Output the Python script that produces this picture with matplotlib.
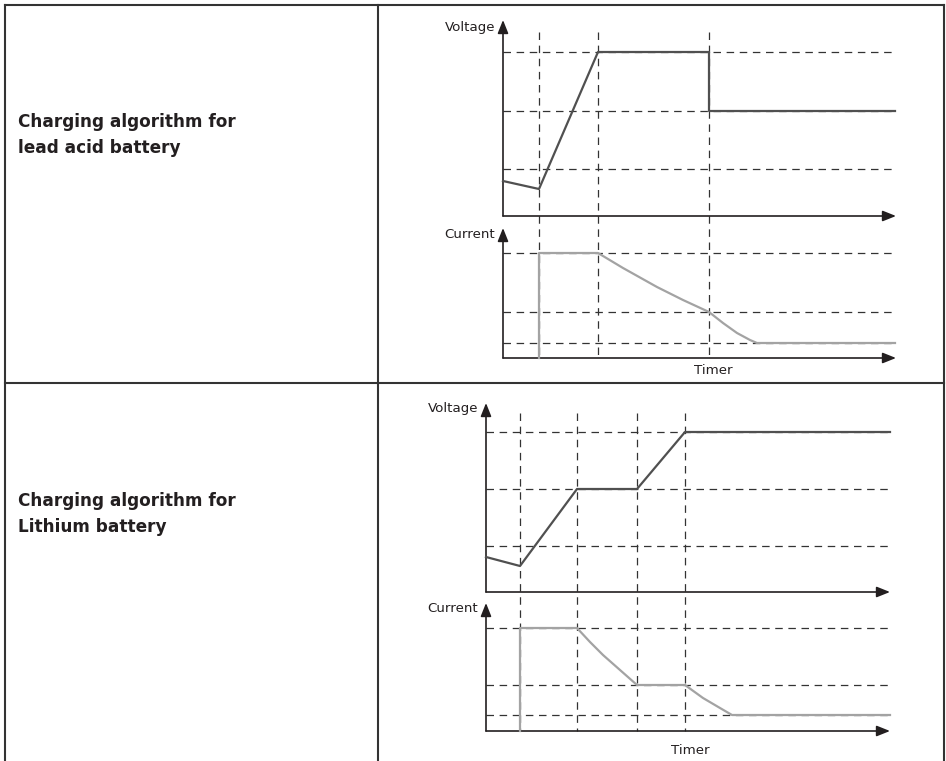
import matplotlib
matplotlib.use("Agg")
import matplotlib.pyplot as plt
from matplotlib.lines import Line2D
from matplotlib.transforms import blended_transform_factory

# -----------------------
# Data (arbitrary time / level units read off the schematic)
# -----------------------
# lead acid battery
lead_stages = [36, 95, 206]
lead_v_levels = [164, 105, 47]
lead_v_t = [0, 36, 95, 206, 206, 392]
lead_v = [35, 27, 164, 164, 105, 105]
lead_i_levels = [105, 46, 15]
lead_i_t = [36, 36, 95, 120, 154, 180, 206, 220, 234, 247, 254, 392]
lead_i = [0, 105, 105, 90, 71, 58, 46, 35, 25, 18, 15, 15]

# lithium battery
li_stages = [34, 91, 151, 199]
li_v_levels = [160, 103, 46]
li_v_t = [0, 34, 91, 151, 199, 404]
li_v = [35, 26, 103, 103, 160, 160]
li_i_levels = [103, 46, 16]
li_i_t = [34, 34, 91, 104, 117, 134, 151, 199, 217, 234, 246, 404]
li_i = [0, 103, 103, 89, 76, 61, 46, 46, 33, 23, 16, 16]

row_titles = [["Charging algorithm for", "lead acid battery"],
              ["Charging algorithm for", "Lithium battery"]]

# -----------------------
# Layout (pixels)
# -----------------------
W, H = 946, 761
AXIS_COL = "#231f20"
GRID_COL = "#333333"
V_COL = "#505050"
I_COL = "#a3a3a3"
DASH = (0, (6, 4.5))

fig = plt.figure(figsize=(W / 100, H / 100), dpi=100)


def fx(px):
    return px / W


def fy(py):
    return 1 - py / H


def make_ax(left, top, right, bottom, xmax, ymax):
    ax = fig.add_axes([fx(left), fy(bottom), fx(right - left), (bottom - top) / H])
    ax.set_xlim(0, xmax)
    ax.set_ylim(0, ymax)
    ax.axis("off")
    arrow = dict(arrowstyle="-|>,head_length=0.8,head_width=0.32", color=AXIS_COL,
                 lw=1.2, shrinkA=0, shrinkB=0, mutation_scale=10)
    ax.annotate("", xy=(1, 0), xytext=(0, 0), xycoords="axes fraction", arrowprops=arrow)
    ax.annotate("", xy=(0, 1), xytext=(0, 0), xycoords="axes fraction", arrowprops=arrow)
    return ax


def hgrid(ax, levels, xend):
    for lv in levels:
        ax.plot([0, xend], [lv, lv], color=GRID_COL, lw=0.9, ls=DASH,
                clip_on=False, zorder=1)


def draw_panel(left, right, v_top, v_bot, i_top, i_bot, vline_top, xend,
               stages, v_levels, v_t, v, i_levels, i_t, i, label_y, timer_x, timer_y):
    xmax = right - left
    axv = make_ax(left, v_top, right, v_bot, xmax, v_bot - v_top)
    axi = make_ax(left, i_top, right, i_bot, xmax, i_bot - i_top)

    hgrid(axv, v_levels, xend)
    hgrid(axi, i_levels, xend)

    # stage boundaries run through both plots
    trans = blended_transform_factory(axv.transData, fig.transFigure)
    for s in stages:
        axv.plot([s, s], [fy(vline_top), fy(i_bot)], transform=trans, color=GRID_COL,
                 lw=0.9, ls=DASH, clip_on=False, zorder=1)

    axv.plot(v_t, v, color=V_COL, lw=1.6, clip_on=False, zorder=3,
             solid_joinstyle="round")
    axi.plot(i_t, i, color=I_COL, lw=1.6, clip_on=False, zorder=3,
             solid_joinstyle="round")

    fig.text(fx(left - 8), fy(label_y[0]), "Voltage", ha="right", va="center",
             fontsize=9.6, color=AXIS_COL)
    fig.text(fx(left - 8), fy(label_y[1]), "Current", ha="right", va="center",
             fontsize=9.6, color=AXIS_COL)
    fig.text(fx(timer_x), fy(timer_y), "Timer", ha="center", va="center",
             fontsize=9.6, color=AXIS_COL)


draw_panel(503, 896, 20, 216, 228, 358, 32, 392,
           lead_stages, lead_v_levels, lead_v_t, lead_v,
           lead_i_levels, lead_i_t, lead_i, (28, 235), 713, 370)
draw_panel(486, 890, 403, 592, 603, 731, 413, 404,
           li_stages, li_v_levels, li_v_t, li_v,
           li_i_levels, li_i_t, li_i, (409, 609), 690, 750)

# -----------------------
# Table frame and row titles
# -----------------------
frame = [((4.5, 4.5), (5, H)), ((378, 378), (5, H)), ((944, 944), (5, H)),
         ((4.5, 944), (5, 5)), ((4.5, 944), (383, 383))]
for xs, ys in frame:
    fig.add_artist(Line2D([fx(x) for x in xs], [fy(y) for y in ys],
                          color="#333333", lw=1.5))

for (l1, l2), y0 in zip(row_titles, [122, 501]):
    fig.text(fx(18), fy(y0), l1, ha="left", va="center", fontsize=12.2,
             fontweight="bold", color=AXIS_COL)
    fig.text(fx(18), fy(y0 + 26), l2, ha="left", va="center", fontsize=12.2,
             fontweight="bold", color=AXIS_COL)

fig.savefig("out.png", dpi=100)
